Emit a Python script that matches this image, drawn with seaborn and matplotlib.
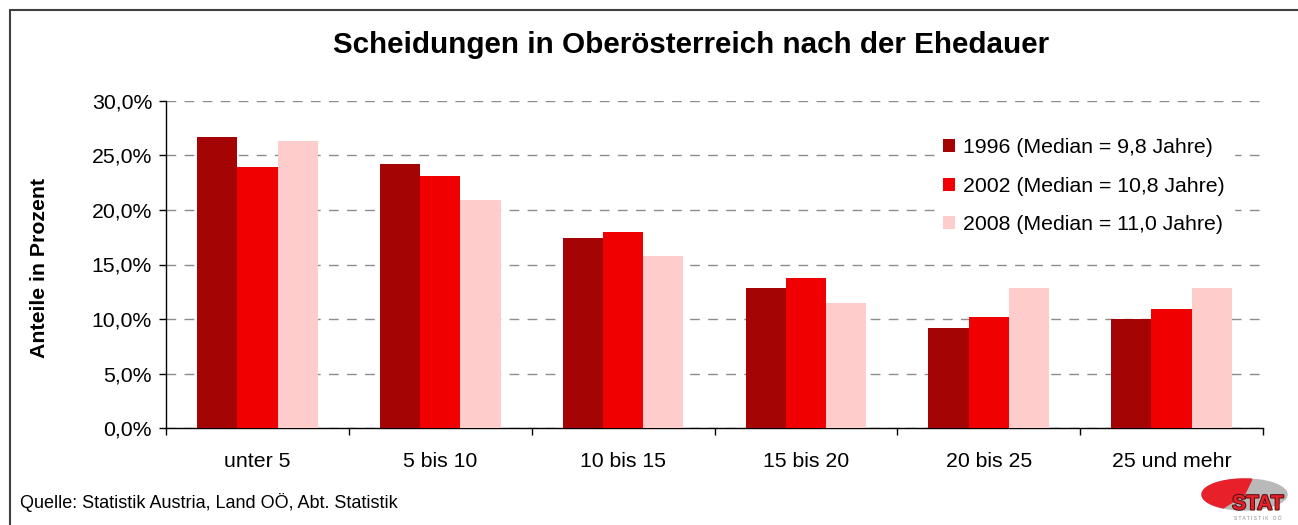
import numpy as np
import pandas as pd
import matplotlib
matplotlib.use("Agg")
import matplotlib.pyplot as plt
import matplotlib.patheffects as pe
from matplotlib.lines import Line2D
from matplotlib.patches import Ellipse, Polygon
from matplotlib.ticker import FuncFormatter, FixedLocator
import seaborn as sns

# data (Anteile in Prozent)
categories = ["unter 5", "5 bis 10", "10 bis 15", "15 bis 20", "20 bis 25", "25 und mehr"]
series_names = ["1996 (Median = 9,8 Jahre)", "2002 (Median = 10,8 Jahre)", "2008 (Median = 11,0 Jahre)"]
values_1996 = [26.7, 24.2, 17.4, 12.8, 9.2, 10.0]
values_2002 = [23.9, 23.1, 18.0, 13.8, 10.2, 10.9]
values_2008 = [26.3, 20.9, 15.8, 11.5, 12.8, 12.8]
colors = ["#A50404", "#F00000", "#FFCCCC"]

rows = []
for name, vals in zip(series_names, [values_1996, values_2002, values_2008]):
    for cat, v in zip(categories, vals):
        rows.append({"Ehedauer": cat, "Jahr": name, "Anteil": v})
df = pd.DataFrame(rows)

sns.set_theme(style="white")
plt.rcParams['font.family'] = ['Liberation Sans', 'DejaVu Sans']
plt.rcParams['text.color'] = 'black'
plt.rcParams['axes.labelcolor'] = 'black'
plt.rcParams['xtick.color'] = 'black'
plt.rcParams['ytick.color'] = 'black'

fig = plt.figure(figsize=(12.98, 5.25), dpi=100)
ax = fig.add_axes([166 / 1298, 1 - 428 / 525, (1263 - 166) / 1298, (428 - 101) / 525])

sns.barplot(data=df, x="Ehedauer", y="Anteil", hue="Jahr", order=categories,
            hue_order=series_names, palette=colors, saturation=1, width=0.66,
            ax=ax, zorder=3, linewidth=0)

ax.set_ylim(0, 30)
ax.set_xlim(-0.5, len(categories) - 0.5)
ax.yaxis.set_major_locator(FixedLocator(np.arange(0, 30.1, 5)))
ax.yaxis.set_major_formatter(FuncFormatter(lambda v, p: f"{v:.1f}%".replace(".", ",")))
ax.grid(axis="y", color="#8c8c8c", linestyle=(0, (7, 6)), linewidth=1, zorder=0)
ax.set_axisbelow(True)

for s in ["top", "right"]:
    ax.spines[s].set_visible(False)
for s in ["left", "bottom"]:
    ax.spines[s].set_color("black")
    ax.spines[s].set_linewidth(1)

ax.tick_params(axis="y", which="major", left=True, length=5, width=1, color="black",
               labelsize=15.3, pad=5)
ax.set_xticks(np.arange(-0.5, len(categories)), minor=True)
ax.tick_params(axis="x", which="minor", bottom=True, length=5, width=1, color="black")
ax.tick_params(axis="x", which="major", bottom=False, labelsize=15.3, pad=11)

ax.set_xlabel("")
ax.set_ylabel("Anteile in Prozent", fontsize=15.3, fontweight="bold")
ax.yaxis.set_label_coords(-0.1067, 0.49)

leg = ax.legend(loc="upper left", bbox_to_anchor=(0.701, 0.912), frameon=True,
                fontsize=15.3, handlelength=0.56, handleheight=0.56,
                handletextpad=0.38, labelspacing=0.91, borderpad=0.4,
                borderaxespad=0)
leg.get_frame().set_facecolor("white")
leg.get_frame().set_edgecolor("white")
leg.get_frame().set_alpha(1)

fig.text(691 / 1298, 1 - 45 / 525, "Scheidungen in Oberösterreich nach der Ehedauer",
         ha="center", va="center", fontsize=21.3, fontweight="bold")
fig.text(20 / 1298, 1 - 503 / 525, "Quelle: Statistik Austria, Land OÖ, Abt. Statistik",
         ha="left", va="center", fontsize=13)

# frame lines (top and left)
fig.add_artist(Line2D([10 / 1298, 1], [1 - 10 / 525, 1 - 10 / 525], color="#404040", lw=1.5))
fig.add_artist(Line2D([10 / 1298, 10 / 1298], [0, 1 - 10 / 525], color="#404040", lw=1.5))

# logo (axes in pixel units of the figure corner)
lax = fig.add_axes([1190 / 1298, 0, 108 / 1298, 55 / 525])
lax.set_xlim(1190, 1298)
lax.set_ylim(525, 470)
lax.axis("off")
cx, cy, a, b = 1244.5, 494.5, 42.5, 15.5
lax.add_patch(Ellipse((cx, cy), 2 * a, 2 * b, color="#B9B9B9"))
t = np.linspace(np.radians(80), np.radians(240), 60)
pts = np.column_stack([cx + a * np.cos(t), cy - b * np.sin(t)])
pts = np.vstack([pts, [[cx, cy]]])
lax.add_patch(Polygon(pts, closed=True, color="#E8202A"))
lax.text(1258, 504, "STAT", ha="center", va="center", fontsize=15, fontweight="bold",
         color="#E8202A", path_effects=[pe.withStroke(linewidth=1.5, foreground="#5a1010")])
lax.text(1258, 518, "S T A T I S T I K   O Ö", ha="center", va="center", fontsize=3.5,
         color="#888888")

fig.savefig("out.png", dpi=100, facecolor="white")
